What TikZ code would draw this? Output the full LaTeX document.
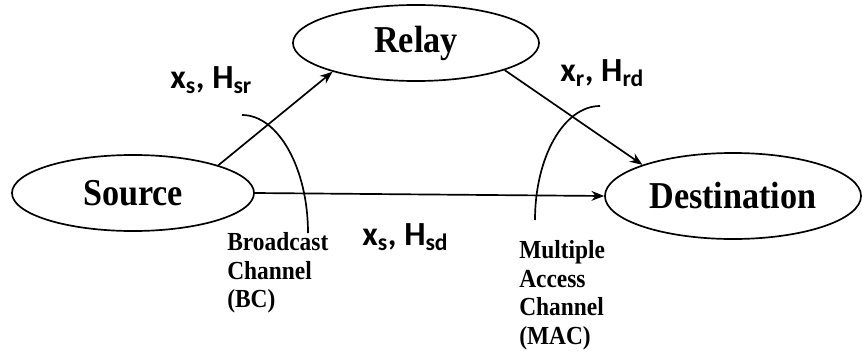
\documentclass[tikz,border=0pt]{standalone}
\usepackage{fontspec}
\setmainfont{Liberation Serif}
\setsansfont{Carlito}
\newfontfamily\termfont[FakeStretch=0.9]{Liberation Serif}
\usetikzlibrary{shapes.geometric,arrows.meta}

\tikzset{
  term/.style = {ellipse, draw, line width=1.2pt, inner sep=0pt,
                 font=\termfont\bfseries\fontsize{27}{30}\selectfont},
  link/.style = {line width=1.2pt, -{Stealth[length=9pt,width=7pt]}},
  arcline/.style = {line width=1.2pt},
  sig/.style = {font=\sffamily\bfseries\fontsize{24}{26}\selectfont,
                inner sep=0pt, anchor=base west},
  chname/.style = {font=\termfont\bfseries\fontsize{18.5}{20.5}\selectfont,
                   align=left, anchor=north west, inner sep=0pt}
}

\begin{document}
\begin{tikzpicture}[x=0.025cm, y=-0.025cm]
  \useasboundingbox (0,0) rectangle (862,356);

  % the three terminals
  \node [term, minimum width=6.05cm, minimum height=1.9cm]  (src) at (133,193) {Source};
  \node [term, minimum width=6.15cm, minimum height=1.9cm]  (rly) at (416,43)  {Relay};
  \node [term, minimum width=6.4cm,  minimum height=2.15cm] (dst) at (733,196) {Destination};

  % links
  \draw [link] (src.18)   -- (rly.199);
  \draw [link] (rly.-17)  -- (dst.161);
  \draw [link] (src.east) -- (dst.west);

  % channel arcs
  \draw [arcline]
    (242,115) coordinate (bcA)
    (308,233) coordinate (bcB)
    (600,106) coordinate (macA)
    (535,220) coordinate (macB)
    (bcA)  .. controls (278,115) and (308,168) .. (bcB)
    (macA) .. controls (564,106) and (535,157) .. (macB);

  % signal labels
  \node [sig] (lsr) at (170,88)  {x\textsubscript{s}, H\textsubscript{sr}};
  \node [sig] (lrd) at (560,81)  {x\textsubscript{r}, H\textsubscript{rd}};
  \node [sig] (lsd) at (362,245) {x\textsubscript{s}, H\textsubscript{sd}};

  % channel names
  \node [chname] (bc)  at (227,232) {Broadcast\\Channel\\(BC)};
  \node [chname] (mac) at (519,240) {Multiple\\Access\\Channel\\(MAC)};
\end{tikzpicture}
\end{document}
